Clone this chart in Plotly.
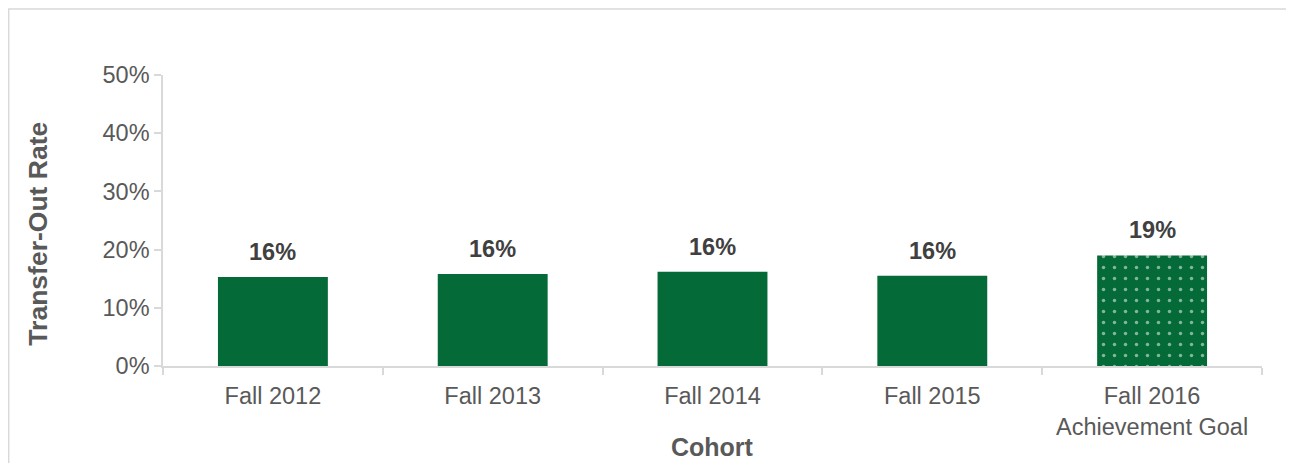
import plotly.graph_objects as go

categories = ["Fall 2012", "Fall 2013", "Fall 2014", "Fall 2015", "Fall 2016<br>Achievement Goal"]
values = [0.153, 0.158, 0.162, 0.155, 0.19]
labels = ["16%", "16%", "16%", "16%", "19%"]
y_tickvals = [0, 0.1, 0.2, 0.3, 0.4, 0.5]
y_ticktext = ["0%", "10%", "20%", "30%", "40%", "50%"]

GREEN = "#046A38"
FONT = "Liberation Sans, Arial, sans-serif"

fig = go.Figure()
fig.add_trace(go.Bar(
    x=categories[:4], y=values[:4],
    marker=dict(color=GREEN, line=dict(width=0)),
    hoverinfo="skip", showlegend=False,
))
fig.add_trace(go.Bar(
    x=categories[4:], y=values[4:],
    marker=dict(color=GREEN, line=dict(width=0),
                pattern=dict(shape=".", fgcolor="white", bgcolor=GREEN,
                             size=11, solidity=0.08, fillmode="overlay")),
    hoverinfo="skip", showlegend=False,
))

for c, v, t in zip(categories, values, labels):
    fig.add_annotation(x=c, y=v, text="<b>" + t + "</b>", showarrow=False, yanchor="bottom",
                       yshift=10, font=dict(family=FONT, size=23.5, color="#404040"))

# axis titles
fig.add_annotation(xref="paper", yref="paper", x=-0.1137, y=0.455, text="<b>Transfer-Out Rate</b>",
                   textangle=-90, showarrow=False, xanchor="center", yanchor="middle",
                   font=dict(family=FONT, size=26.5, color="#595959"))
fig.add_annotation(xref="paper", yref="paper", x=0.5, y=-0.2785, text="<b>Cohort</b>",
                   showarrow=False, xanchor="center", yanchor="middle",
                   font=dict(family=FONT, size=25, color="#595959"))

fig.add_shape(type="rect", xref="paper", yref="paper",
              x0=-0.1404, x1=1.0264, y0=-0.6, y1=1.2268,
              line=dict(color="#D9D9D9", width=1.5), fillcolor="rgba(0,0,0,0)", layer="below")

fig.update_layout(
    width=1286, height=455,
    margin=dict(l=155, r=32, t=67, b=97),
    paper_bgcolor="white", plot_bgcolor="white",
    bargap=0.5, barmode="overlay",
    font=dict(family=FONT, color="#595959", size=23.5),
    xaxis=dict(
        categoryorder="array", categoryarray=categories, automargin=False,
        showline=True, linecolor="#D9D9D9", linewidth=1.5,
        ticks="outside", tickson="boundaries", ticklen=7, tickcolor="#D9D9D9", tickwidth=1.5,
        ticklabelstandoff=8,
        tickfont=dict(size=23.5, color="#595959"),
        showgrid=False, zeroline=False,
    ),
    yaxis=dict(
        range=[0, 0.5], tickvals=y_tickvals, ticktext=y_ticktext, automargin=False,
        showline=True, linecolor="#D9D9D9", linewidth=1.5,
        ticks="outside", ticklen=7, tickcolor="#D9D9D9", tickwidth=1.5,
        tickfont=dict(size=23.5, color="#595959"),
        showgrid=False, zeroline=False,
    ),
)

fig.write_html("out.html")
